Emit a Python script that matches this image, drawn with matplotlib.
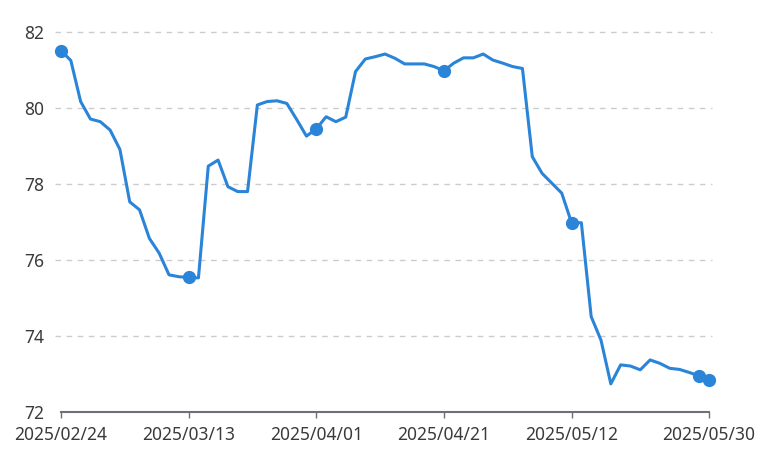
import matplotlib
matplotlib.use("Agg")
import matplotlib.pyplot as plt

values = [
    81.51, 81.25, 80.17, 79.71, 79.64, 79.42, 78.91, 77.53, 77.32, 76.57,
    76.18, 75.61, 75.56, 75.54, 75.53, 78.47, 78.63, 77.93, 77.80, 77.80,
    80.08, 80.17, 80.19, 80.12, 79.70, 79.26, 79.45, 79.77, 79.64, 79.76,
    80.96, 81.29, 81.35, 81.42, 81.31, 81.16, 81.16, 81.16, 81.09, 80.98,
    81.18, 81.32, 81.32, 81.42, 81.26, 81.18, 81.09, 81.04, 78.72, 78.28,
    78.02, 77.76, 76.98, 76.98, 74.51, 73.89, 72.74, 73.24, 73.21, 73.11,
    73.37, 73.28, 73.15, 73.12, 73.04, 72.95, 72.84,
]
tick_labels = ["2025/02/24", "2025/03/13", "2025/04/01", "2025/04/21", "2025/05/12", "2025/05/30"]
tick_index = [0, 13, 26, 39, 52, 66]
marker_index = [0, 13, 26, 39, 52, 65, 66]
y_ticks = [72, 74, 76, 78, 80, 82]

W, H = 771, 459
fig = plt.figure(figsize=(W / 100, H / 100), dpi=100)
ax = fig.add_axes([61 / W, (H - 412) / H, (709 - 61) / W, (412 - 32) / H])

color = "#2A84D8"
grey = "#6E7079"
font = ["Noto Sans", "DejaVu Sans"]

x = list(range(len(values)))
ax.plot(x, values, color=color, lw=2.2, solid_joinstyle="round", zorder=3,
        clip_on=False)
ax.plot(marker_index, [values[i] for i in marker_index], "o", color=color,
        markersize=8.5, zorder=4, clip_on=False)

ax.set_xlim(0, len(values) - 1)
ax.set_ylim(72, 82)
ax.set_yticks(y_ticks)
ax.set_xticks(tick_index)
ax.set_xticklabels(tick_labels)

for yv in y_ticks[1:]:
    ax.axhline(yv, color="#CCCCCC", lw=1, dashes=(4, 4), zorder=1, clip_on=False,
               xmin=-0.01, xmax=1.005)

for s in ["top", "right", "left"]:
    ax.spines[s].set_visible(False)
ax.spines["bottom"].set_color(grey)
ax.spines["bottom"].set_linewidth(1.5)

ax.tick_params(axis="y", length=0, pad=12, labelsize=12.5, labelcolor="#3A3A3A")
ax.tick_params(axis="x", length=4, width=1, color=grey, pad=6, labelsize=12.5,
               labelcolor="#3A3A3A", direction="out")
for lab in ax.get_xticklabels() + ax.get_yticklabels():
    lab.set_family(font)

fig.savefig("out.png", dpi=100)
